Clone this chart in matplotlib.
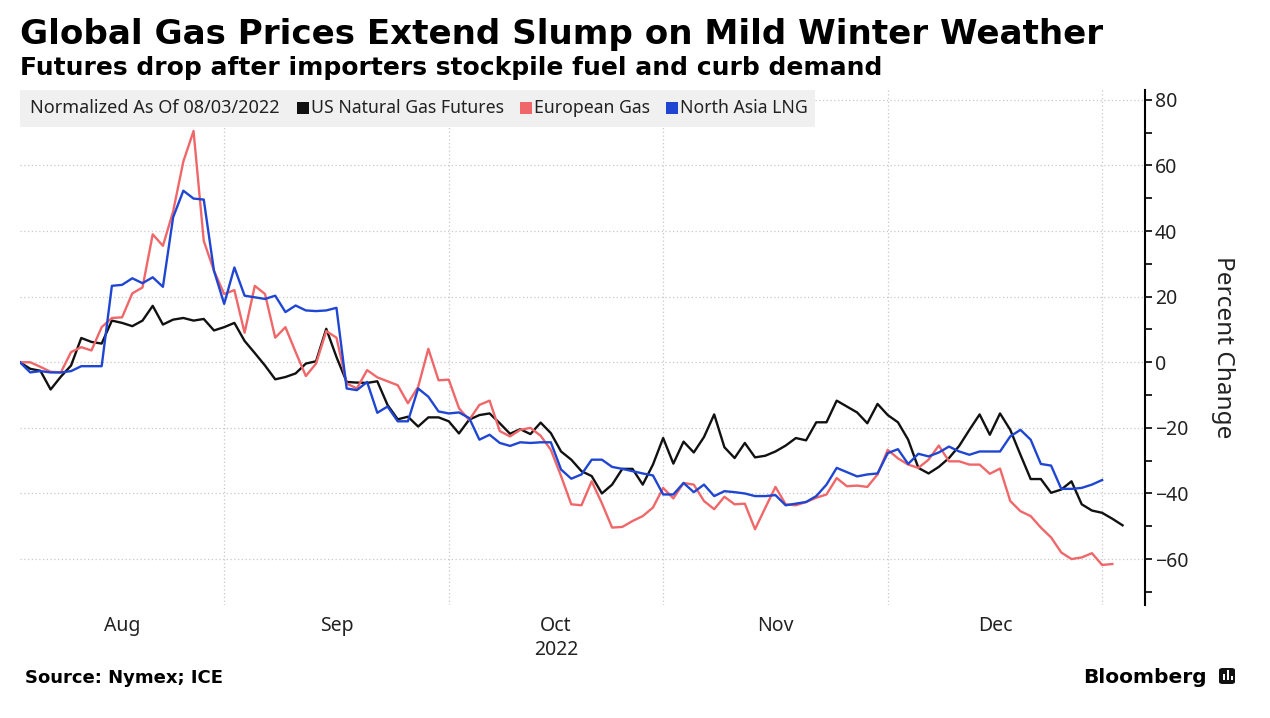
import numpy as np
import pandas as pd
import matplotlib
matplotlib.use("Agg")
import matplotlib.pyplot as plt
from matplotlib.patches import Rectangle, FancyBboxPatch

plt.rcParams['font.family'] = ['Noto Sans', 'DejaVu Sans']
plt.rcParams['axes.unicode_minus'] = True

# trading days used by the chart (days with a gap in one of the markets dropped)
dates = pd.bdate_range("2022-08-03", "2023-01-05", freq="C",
                       holidays=["2022-08-29", "2022-12-26", "2023-01-02"])

# percent change, normalized as of 08/03/2022
us_gas = [0, -2, -2.6, -8.3, -4.4, -1, 7.4, 6.2, 5.7, 12.7,
          12, 11, 12.7, 17.2, 11.5, 13, 13.5, 12.7, 13.2, 9.7,
          10.7, 12, 6.5, 2.8, -1, -5.2, -4.5, -3.4, -0.4, 0.3,
          10.2, 1.6, -6, -6.2, -6.3, -5.8, -13, -17.4, -16.6, -19.6,
          -16.8, -16.8, -18, -21.7, -17.5, -16.1, -15.6, -18.6, -21.8, -20.4,
          -21.9, -18.4, -21.6, -27.2, -29.7, -33.2, -34.7, -40, -37.3, -32.5,
          -32.5, -37.3, -31.2, -23.1, -30.9, -24.2, -27.5, -22.8, -15.9, -25.9,
          -29.2, -24.6, -29, -28.5, -27.2, -25.4, -23.1, -23.8, -18.3, -18.3,
          -11.7, -13.5, -15.3, -18.6, -12.7, -16.1, -18.3, -23.6, -32.2, -33.9,
          -31.9, -29.2, -25.5, -20.6, -15.9, -22.1, -15.6, -20.6, -28.2, -35.6,
          -35.6, -39.8, -38.8, -36.3, -43.3, -45.2, -45.9, -47.7, -49.7]
eu_gas = [0, 0, -1.4, -2.9, -3.1, 3.1, 4.6, 3.6, 10.7, 13.5,
          13.7, 21, 22.8, 39, 35.5, 46, 61.2, 70.5, 37, 27.9,
          20.8, 22, 9, 23.3, 20.8, 7.5, 10.7, 3.1, -4.2, -0.4,
          9.5, 7.5, -6.5, -8, -2.4, -4.6, -5.8, -7, -12.5, -7.5,
          4.1, -5.5, -5.3, -14, -17.6, -13, -11.7, -21, -22.6, -20.6,
          -20, -22.4, -26.7, -34.7, -43.3, -43.6, -36.3, -43, -50.4, -50.2,
          -48.4, -46.9, -44.3, -38.3, -41.5, -36.8, -37.3, -42.3, -44.8, -41,
          -43.3, -43.1, -50.9, -44.4, -38, -43.3, -43.6, -42.6, -41.3, -40.3,
          -35.3, -37.8, -37.6, -38, -34.2, -26.7, -29.3, -31.2, -32.2, -29.7,
          -25.4, -30.2, -30.2, -31.2, -31.2, -34, -32.4, -42.3, -45.4, -46.9,
          -50.4, -53.4, -58, -60, -59.5, -58.2, -61.8, -61.5]
asia_lng = [0, -3.1, -2.7, -3.1, -3.1, -2.7, -1.2, -1.2, -1.2, 23.3,
            23.6, 25.6, 24.1, 25.9, 23, 44.2, 52.3, 49.9, 49.6, 27.9,
            17.8, 28.9, 20.3, 19.8, 19.3, 20.3, 15.3, 17.3, 15.8, 15.6,
            15.8, 16.6, -8, -8.5, -6, -15.4, -13.5, -18, -18, -8,
            -10.5, -15, -15.6, -15.3, -17, -23.6, -22.1, -24.6, -25.5, -24.4,
            -24.6, -24.4, -24.4, -32.7, -35.5, -34.2, -29.7, -29.7, -31.9, -32.5,
            -33.2, -33.9, -34.5, -40.3, -40.3, -36.8, -39.6, -37.3, -40.8, -39.3,
            -39.6, -40, -40.8, -40.8, -40.5, -43.6, -43.1, -42.6, -40.8, -37.3,
            -32.2, -33.5, -34.8, -34.2, -33.9, -27.7, -26.5, -31, -27.9, -28.7,
            -27.5, -25.7, -27.2, -28.2, -27.2, -27.2, -27.2, -22.6, -20.6, -23.6,
            -31, -31.5, -38.6, -38.6, -38.3, -37.3, -35.9]

series_names = ["US Natural Gas Futures", "European Gas", "North Asia LNG"]
series_colors = ["#111111", "#f0676a", "#1f46d2"]
y_ticks = [-60, -40, -20, 0, 20, 40, 60, 80]

W, H = 1270, 718
fig = plt.figure(figsize=(W / 100, H / 100), dpi=100)
ax = fig.add_axes([20 / W, 1 - 605 / H, 1125 / W, 515 / H])

for vals, color in zip([us_gas, eu_gas, asia_lng], series_colors):
    ax.plot(np.arange(len(vals)), vals, color=color, lw=1.7, zorder=3)

# month boundaries and label positions on the trading-day index
months = dates.to_period("M")
starts = [0] + [i for i in range(1, len(dates)) if months[i] != months[i - 1]]
centers = [(a + b) / 2 for a, b in zip(starts[:-1], starts[1:])]
labels = [dates[s].strftime("%b") for s in starts[:-1]]
labels = [l + "\n2022" if l == "Oct" else l for l in labels]

ax.set_xlim(0, 110.2)
ax.set_ylim(-74, 83)
ax.set_xticks(centers)
ax.set_xticklabels(labels, fontsize=14, color="#222222", linespacing=1.25)
ax.set_xticks(starts[1:], minor=True)
ax.tick_params(axis="x", which="both", length=0, pad=8)
ax.grid(axis="x", which="minor", color="#c8c8c8", ls=(0, (1, 2)), lw=0.9)

ax.yaxis.tick_right()
ax.set_yticks(y_ticks)
ax.set_yticks(np.arange(-70, 81, 20), minor=True)
ax.tick_params(axis="y", which="both", direction="out", length=5, width=1.2,
               labelsize=14, labelcolor="#222222", pad=2)
ax.grid(axis="y", which="major", color="#c8c8c8", ls=(0, (1, 2)), lw=0.9)
ax.yaxis.set_label_position("right")
ax.set_ylabel("Percent Change", rotation=270, fontsize=17.5, color="#222222", labelpad=34)

for s in ["left", "top", "bottom"]:
    ax.spines[s].set_visible(False)
ax.spines["right"].set_linewidth(1.5)

fig.text(20 / W, 1 - 44 / H, "Global Gas Prices Extend Slump on Mild Winter Weather",
         fontsize=24.6, fontweight="bold", family="DejaVu Sans", va="baseline")
fig.text(20 / W, 1 - 75 / H, "Futures drop after importers stockpile fuel and curb demand",
         fontsize=18, fontweight="bold", family="DejaVu Sans", va="baseline")
fig.text(25 / W, 1 - 683 / H, "Source: Nymex; ICE", fontsize=13, fontweight="bold",
         family="DejaVu Sans", va="baseline")
fig.text(1207 / W, 1 - 683 / H, "Bloomberg", fontsize=14.5, fontweight="bold",
         family="DejaVu Sans", ha="right", va="baseline")

# small Bloomberg mark
fig.patches.append(FancyBboxPatch((1219 / W, 1 - 684 / H), 16 / W, 16 / H,
                                  boxstyle="round,pad=0,rounding_size=0.003",
                                  transform=fig.transFigure, facecolor="#111111",
                                  edgecolor="none"))
for bx, bh in [(1223, 6), (1227, 10), (1231, 4)]:
    fig.patches.append(Rectangle((bx / W, 1 - 680 / H), 2 / W, bh / H,
                                 transform=fig.transFigure, facecolor="white"))

# legend strip
fig.canvas.draw()
r = fig.canvas.get_renderer()
yc = 1 - 108 / H
box = Rectangle((20 / W, 1 - 127 / H), 800 / W, 37 / H, transform=fig.transFigure,
                facecolor="#f0f0f0", edgecolor="none", zorder=1)
fig.patches.append(box)
t = fig.text(30 / W, yc, "Normalized As Of 08/03/2022", fontsize=13, color="#222222",
             va="center", zorder=2)
x = t.get_window_extent(r).x1 + 17
for name, color in zip(series_names, series_colors):
    fig.patches.append(Rectangle((x / W, yc - 6 / H), 12 / W, 12 / H,
                                 transform=fig.transFigure, facecolor=color,
                                 edgecolor="none", zorder=2))
    t = fig.text((x + 14) / W, yc, name, fontsize=12.7, color="#222222",
                 va="center", zorder=2)
    x = t.get_window_extent(r).x1 + 16
box.set_width((x - 8 - 20) / W)

fig.savefig("out.png", dpi=100)
